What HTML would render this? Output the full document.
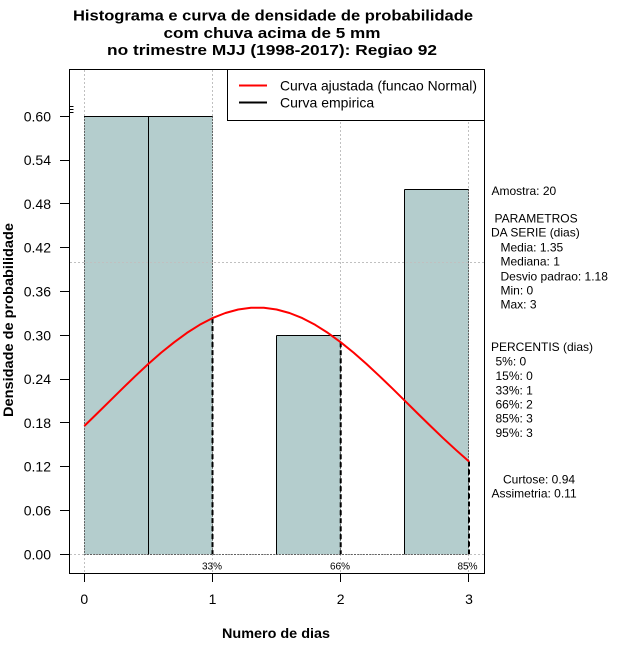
<!DOCTYPE html>
<html>
<head>
<meta charset="utf-8">
<style>
  html,body{margin:0;padding:0;background:#fff;}
  svg{display:block;}
  text{font-family:"Liberation Sans",Arial,sans-serif;fill:#000;}
</style>
</head>
<body>
<svg width="640" height="660" viewBox="0 0 640 660" xmlns="http://www.w3.org/2000/svg">
  <rect x="0" y="0" width="640" height="660" fill="#fff"/>

  <!-- Title -->
  <g font-weight="bold" font-size="15" text-anchor="middle">
    <text x="273" y="20.5" textLength="400" lengthAdjust="spacingAndGlyphs">Histograma e curva de densidade de probabilidade</text>
    <text x="272" y="38" textLength="217" lengthAdjust="spacingAndGlyphs">com chuva acima de 5 mm</text>
    <text x="272" y="55" textLength="330" lengthAdjust="spacingAndGlyphs">no trimestre MJJ (1998-2017): Regiao 92</text>
  </g>

  <!-- bars fill -->
  <g fill="#B4CDCD" stroke="none">
    <rect x="84.3" y="116.3" width="64.1" height="438"/>
    <rect x="148.4" y="116.3" width="64.1" height="438"/>
    <rect x="276.6" y="335.3" width="64.1" height="219"/>
    <rect x="404.9" y="189.3" width="64.1" height="365"/>
  </g>

  <!-- gray grid -->
  <g stroke="#c0c0c0" stroke-width="1" stroke-dasharray="2 2" shape-rendering="crispEdges" fill="none">
    <line x1="84.5" y1="70" x2="84.5" y2="573"/>
    <line x1="212.5" y1="70" x2="212.5" y2="573"/>
    <line x1="340.5" y1="70" x2="340.5" y2="573"/>
    <line x1="468.5" y1="70" x2="468.5" y2="573"/>
    <line x1="70" y1="554.5" x2="484" y2="554.5"/>
    <line x1="70" y1="262.5" x2="484" y2="262.5"/>
  </g>

  <!-- bar dotted borders -->
  <g stroke="#000" stroke-width="1" stroke-dasharray="1 2" fill="none" shape-rendering="crispEdges">
    <line x1="84.5" y1="116.5" x2="84.5" y2="554.5"/>
    <line x1="212.5" y1="116.5" x2="212.5" y2="554.5"/>
    <line x1="340.5" y1="335.5" x2="340.5" y2="554.5"/>
    <line x1="468.5" y1="189.5" x2="468.5" y2="554.5"/>
    <line x1="84.5" y1="554.5" x2="468.5" y2="554.5"/>
  </g>

  <!-- empirical solid lines -->
  <g stroke="#000" stroke-width="1.2" fill="none" shape-rendering="crispEdges">
    <line x1="84" y1="116.5" x2="212.5" y2="116.5"/>
    <line x1="148.5" y1="116.5" x2="148.5" y2="554.5"/>
    <line x1="276.5" y1="335.5" x2="340.5" y2="335.5"/>
    <line x1="276.5" y1="335.5" x2="276.5" y2="554.5"/>
    <line x1="404.5" y1="189.5" x2="468.5" y2="189.5"/>
    <line x1="404.5" y1="189.5" x2="404.5" y2="554.5"/>
  </g>

  <!-- percentile dashed lines -->
  <g stroke="#000" stroke-width="2" stroke-dasharray="5 3" fill="none">
    <line x1="212.5" y1="318.1" x2="212.5" y2="554.3"/>
    <line x1="340.7" y1="342.3" x2="340.7" y2="554.3"/>
    <line x1="469" y1="461.5" x2="469" y2="554.3"/>
  </g>

  <!-- normal curve -->
  <polyline fill="none" stroke="#FF0000" stroke-width="2" stroke-linejoin="round"
    points="84.3,426.0 97.1,413.5 110.0,400.8 122.8,388.2 135.6,375.8 148.4,363.9 161.2,352.6 174.1,342.3 186.9,332.9 199.7,324.8 212.5,318.1 225.4,313.0 238.2,309.5 251.0,307.7 263.8,307.7 276.6,309.5 289.5,313.0 302.3,318.1 315.1,324.8 327.9,332.9 340.8,342.3 353.6,352.6 366.4,363.9 379.2,375.8 392.1,388.2 404.9,400.8 417.7,413.5 430.5,426.0 443.3,438.3 456.2,450.2 469.0,461.5"/>

  <!-- percent labels -->
  <g font-size="10" text-anchor="middle">
    <text x="212" y="569.5">33%</text>
    <text x="340" y="569.5">66%</text>
    <text x="467.5" y="569.5">85%</text>
  </g>

  <!-- small marks near top-left -->
  <g stroke="#000" stroke-width="1" shape-rendering="crispEdges">
    <line x1="69" y1="106.5" x2="73.5" y2="106.5"/>
    <line x1="69" y1="109.5" x2="73.5" y2="109.5"/>
    <line x1="69" y1="112.5" x2="73.5" y2="112.5"/>
  </g>

  <!-- plot box -->
  <rect x="69.5" y="69.5" width="415" height="504" fill="none" stroke="#000" stroke-width="1" shape-rendering="crispEdges"/>

  <!-- legend -->
  <rect x="227.5" y="69.5" width="257" height="51" fill="#fff" stroke="#000" stroke-width="1" shape-rendering="crispEdges"/>
  <line x1="239" y1="85.5" x2="267" y2="85.5" stroke="#FF0000" stroke-width="2"/>
  <line x1="239" y1="102.5" x2="267" y2="102.5" stroke="#000" stroke-width="2"/>
  <g font-size="14">
    <text x="280" y="90.7" textLength="197" lengthAdjust="spacingAndGlyphs">Curva ajustada (funcao Normal)</text>
    <text x="280" y="107.7">Curva empirica</text>
  </g>

  <!-- y axis ticks -->
  <g stroke="#000" stroke-width="1" shape-rendering="crispEdges">
    <line x1="60" y1="554.5" x2="69" y2="554.5"/>
    <line x1="60" y1="510.5" x2="69" y2="510.5"/>
    <line x1="60" y1="466.5" x2="69" y2="466.5"/>
    <line x1="60" y1="422.5" x2="69" y2="422.5"/>
    <line x1="60" y1="379.5" x2="69" y2="379.5"/>
    <line x1="60" y1="335.5" x2="69" y2="335.5"/>
    <line x1="60" y1="291.5" x2="69" y2="291.5"/>
    <line x1="60" y1="247.5" x2="69" y2="247.5"/>
    <line x1="60" y1="203.5" x2="69" y2="203.5"/>
    <line x1="60" y1="160.5" x2="69" y2="160.5"/>
    <line x1="60" y1="116.5" x2="69" y2="116.5"/>
  </g>
  <g font-size="14" text-anchor="end">
    <text x="51" y="559.3">0.00</text>
    <text x="51" y="515.5">0.06</text>
    <text x="51" y="471.7">0.12</text>
    <text x="51" y="427.9">0.18</text>
    <text x="51" y="384.1">0.24</text>
    <text x="51" y="340.3">0.30</text>
    <text x="51" y="296.5">0.36</text>
    <text x="51" y="252.7">0.42</text>
    <text x="51" y="208.9">0.48</text>
    <text x="51" y="165.1">0.54</text>
    <text x="51" y="121.3">0.60</text>
  </g>

  <!-- x axis ticks -->
  <g stroke="#000" stroke-width="1" shape-rendering="crispEdges">
    <line x1="84.5" y1="573" x2="84.5" y2="582"/>
    <line x1="212.5" y1="573" x2="212.5" y2="582"/>
    <line x1="340.5" y1="573" x2="340.5" y2="582"/>
    <line x1="468.5" y1="573" x2="468.5" y2="582"/>
  </g>
  <g font-size="14" text-anchor="middle">
    <text x="84.3" y="604">0</text>
    <text x="212.5" y="604">1</text>
    <text x="340.7" y="604">2</text>
    <text x="469" y="604">3</text>
  </g>

  <!-- axis titles -->
  <text x="276" y="638" font-size="14" font-weight="bold" text-anchor="middle" textLength="108" lengthAdjust="spacingAndGlyphs">Numero de dias</text>
  <text transform="translate(13,320) rotate(-90)" x="0" y="0" font-size="14" font-weight="bold" text-anchor="middle" textLength="194" lengthAdjust="spacingAndGlyphs">Densidade de probabilidade</text>

  <!-- right side stats -->
  <g font-size="12">
    <text x="491.5" y="195">Amostra: 20</text>
    <text x="494.5" y="222.6">PARAMETROS</text>
    <text x="491" y="236.6">DA SERIE (dias)</text>
    <text x="500.5" y="251.6">Media: 1.35</text>
    <text x="500.5" y="265.6">Mediana: 1</text>
    <text x="500.5" y="280.3">Desvio padrao: 1.18</text>
    <text x="500.5" y="294.3">Min: 0</text>
    <text x="500.5" y="308.3">Max: 3</text>
    <text x="491" y="351">PERCENTIS (dias)</text>
    <text x="495.5" y="365.3">5%: 0</text>
    <text x="495.5" y="380">15%: 0</text>
    <text x="495.5" y="394.3">33%: 1</text>
    <text x="495.5" y="408.3">66%: 2</text>
    <text x="495.5" y="422.6">85%: 3</text>
    <text x="495.5" y="437">95%: 3</text>
    <text x="503" y="483.6">Curtose: 0.94</text>
    <text x="491.5" y="497.6">Assimetria: 0.11</text>
  </g>
</svg>
</body>
</html>
